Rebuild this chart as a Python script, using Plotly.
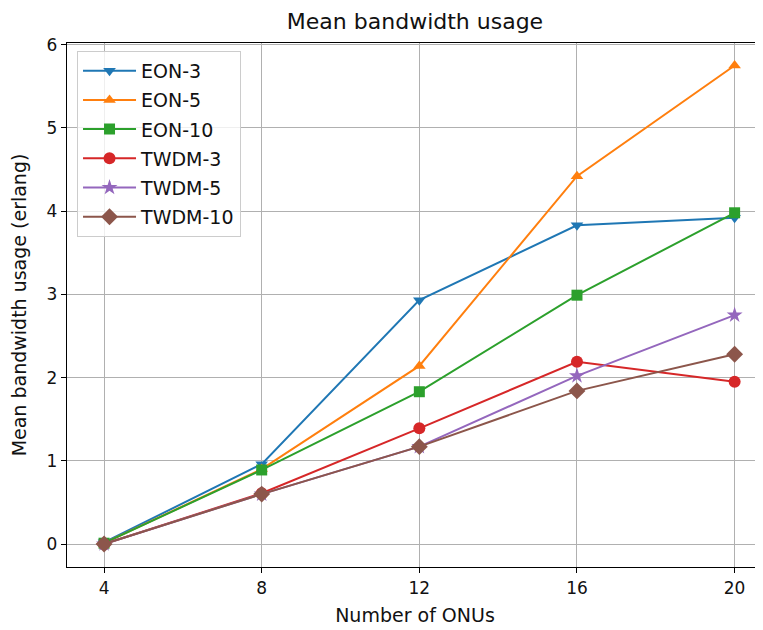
import plotly.graph_objects as go

onus = [4, 8, 12, 16, 20]
series_names = ["EON-3", "EON-5", "EON-10", "TWDM-3", "TWDM-5", "TWDM-10"]
eon3 = [0.02, 0.96, 2.93, 3.83, 3.92]
eon5 = [0.01, 0.90, 2.14, 4.42, 5.75]
eon10 = [0.01, 0.89, 1.83, 2.99, 3.98]
twdm3 = [0.0, 0.61, 1.39, 2.19, 1.95]
twdm5 = [0.0, 0.60, 1.17, 2.02, 2.75]
twdm10 = [0.0, 0.60, 1.17, 1.84, 2.28]
values = [eon3, eon5, eon10, twdm3, twdm5, twdm10]

colors = ["#1f77b4", "#ff7f0e", "#2ca02c", "#d62728", "#9467bd", "#8c564b"]
symbols = ["triangle-down", "triangle-up", "square", "circle", "star", "diamond"]
sizes = [11, 11, 11, 12, 12, 13]

fig = go.Figure()
for name, vals, c, s, sz in zip(series_names, values, colors, symbols, sizes):
    fig.add_trace(go.Scatter(
        x=onus, y=vals, name=name, mode="lines+markers",
        line=dict(color=c, width=2),
        marker=dict(symbol=s, size=sz, color=c, line=dict(width=0)),
        legendgroup=name,
    ))

# page body has an 8px margin; size the figure so the plot area lands where the reference has it
W, H = 755, 622
tick_font = dict(family="DejaVu Sans", size=17, color="#111")
label_font = dict(family="DejaVu Sans", size=19, color="#111")
fig.update_layout(
    width=W, height=H,
    margin=dict(l=59, r=0, t=35, b=63),
    paper_bgcolor="white", plot_bgcolor="white",
    title=dict(text="Mean bandwidth usage", x=(415 - 8) / W, xanchor="center",
               y=1 - 13 / H, yanchor="middle",
               font=dict(family="DejaVu Sans", size=22, color="#111")),
    showlegend=True,
    legend=dict(x=0.0144, y=0.985, xanchor="left", yanchor="top",
                bgcolor="rgba(255,255,255,0.8)", bordercolor="#cccccc", borderwidth=1,
                font=dict(family="DejaVu Sans", size=19, color="#111"),
                tracegroupgap=1.5, traceorder="grouped", itemwidth=53),
    xaxis=dict(range=[3.06, 20.72], tickvals=onus, ticktext=[str(v) for v in onus],
               showgrid=True, gridcolor="#b0b0b0", gridwidth=1,
               showline=True, linecolor="black", linewidth=1.3, mirror=True,
               ticks="outside", ticklen=5, tickcolor="black", zeroline=False,
               tickfont=tick_font, automargin=False,
               title=dict(text="Number of ONUs", font=label_font, standoff=12)),
    yaxis=dict(range=[-0.276, 6.02], tickvals=[0, 1, 2, 3, 4, 5, 6],
               showgrid=True, gridcolor="#b0b0b0", gridwidth=1,
               showline=True, linecolor="black", linewidth=1.3,
               ticks="outside", ticklen=5, tickcolor="black", zeroline=False,
               tickfont=tick_font, automargin=False,
               title=dict(text="Mean bandwidth usage (erlang)", font=label_font, standoff=15)),
)

fig.write_html("out.html")
